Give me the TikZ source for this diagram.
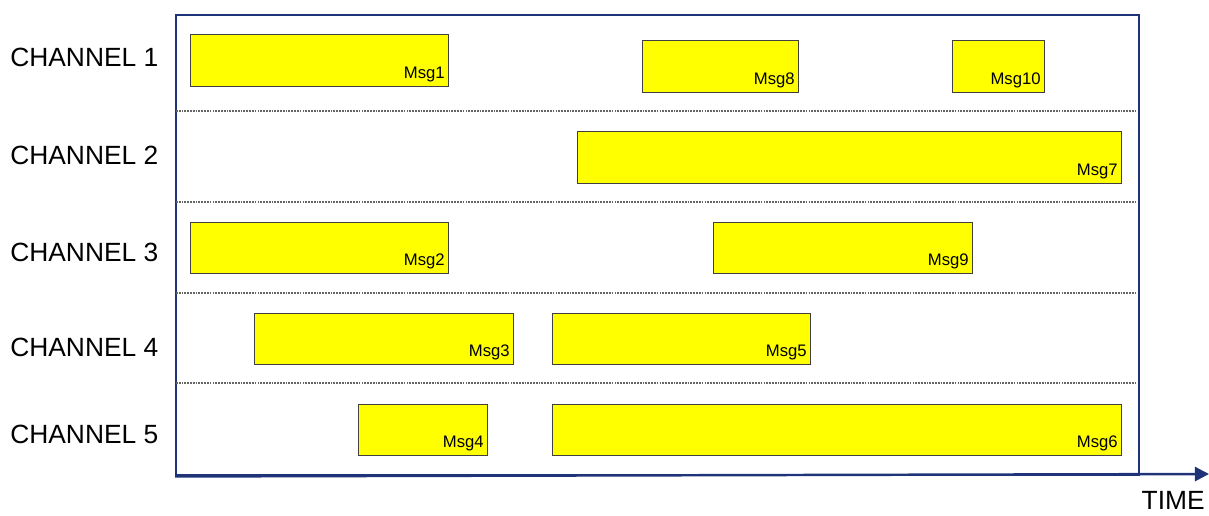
\documentclass[tikz,border=0pt]{standalone}
\usepackage{fontspec}
\setmainfont{Liberation Sans}
\usepackage{tikz}
\usetikzlibrary{positioning}
\usetikzlibrary{arrows.meta}
\definecolor{framenavy}{RGB}{31,52,120}
\definecolor{boxyellow}{RGB}{255,255,0}
\tikzset{
msg_box/.style={rectangle, draw=black!75, fill=boxyellow, line width=0.8pt, anchor=north west, inner sep=0pt},
msg_label/.style={anchor=south east, font=\fontsize{9.5}{11}\selectfont, inner xsep=2.5pt, inner ysep=3pt},
channel_label/.style={anchor=west, font=\fontsize{15}{18}\selectfont, inner sep=0pt},
lane_sep/.style={draw=black!60, line width=1pt, dash pattern=on 1pt off 0.6pt}
}

\begin{document}
\begin{tikzpicture}[x=0.02cm, y=-0.02cm]
    \useasboundingbox (0,0) rectangle (1209,515);
    % time axis frame
    \node[draw=framenavy, line width=1.4pt, anchor=north west, minimum width=963*0.02cm, minimum height=460*0.02cm, inner sep=0pt] (frame) at (175,14) {};
    \foreach \y in {111,202,293,383}
        \draw[lane_sep] (176,\y) -- (1137,\y);
    % channel names
    \node[channel_label] (ch1) at (10,57) {CHANNEL 1};
    \node[channel_label] (ch2) at (10,155) {CHANNEL 2};
    \node[channel_label] (ch3) at (10,252) {CHANNEL 3};
    \node[channel_label] (ch4) at (10,347) {CHANNEL 4};
    \node[channel_label] (ch5) at (10,434) {CHANNEL 5};
    % messages: id / left / top / right / bottom
    \foreach \id/\xa/\ya/\xb/\yb in {1/190/34/448/86, 8/642/40/798/92, 10/952/40/1044/92,
        7/577/131/1121/183, 2/190/222/448/273, 9/713/222/972/273,
        3/254/313/513/364, 5/552/313/810/364, 4/358/404/487/455, 6/552/404/1121/455} {
        \node[msg_box, minimum width={(\xb-\xa)*0.02cm}, minimum height={(\yb-\ya)*0.02cm}] (msg\id) at (\xa,\ya) {};
        \node[msg_label] (lbl\id) at (msg\id.south east) {Msg\id};
    }
    % time arrow
    \coordinate (time_end) at (1209,474);
    \draw[framenavy, line width=1.4pt, -{Triangle[length=8pt, width=8pt]}] (frame.south west) -- (time_end);
    \node[channel_label, anchor=north east, below left=0.34cm and 0.08cm of time_end] (time) {TIME};
\end{tikzpicture}
\end{document}
